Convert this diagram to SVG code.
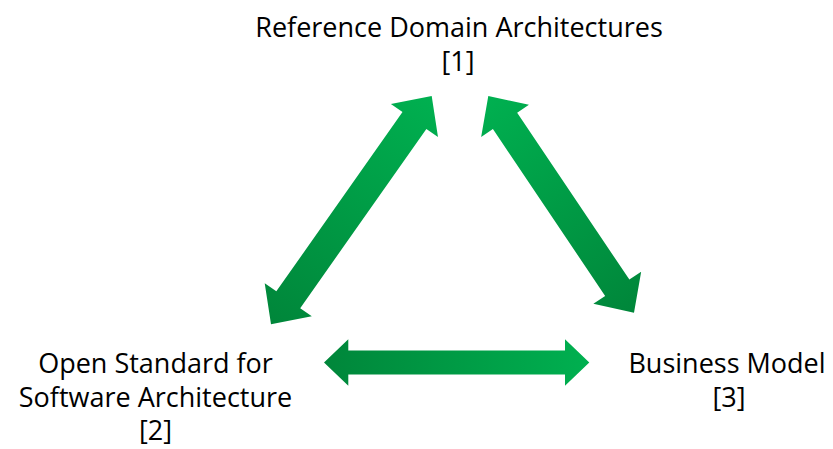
<svg xmlns="http://www.w3.org/2000/svg" width="833" height="449" viewBox="0 0 833 449">
  <style>
    .lbl { font-family: "Open Sans", "Liberation Sans", sans-serif; font-size: 27px; fill: #000; text-anchor: middle; }
  </style>
  <defs>
    <linearGradient id="gUp" x1="0" y1="0" x2="1" y2="0">
      <stop offset="0" stop-color="#00863a"/>
      <stop offset="1" stop-color="#00b050"/>
    </linearGradient>
    <linearGradient id="gDown" x1="0" y1="0" x2="1" y2="0">
      <stop offset="0" stop-color="#00b050"/>
      <stop offset="1" stop-color="#00863a"/>
    </linearGradient>
  </defs>
  <rect width="833" height="449" fill="#fff"/>

  <g id="connectors">
    <path id="arrow-1-2" fill="url(#gUp)" transform="translate(271,324.3) rotate(-54.86)"
      d="M0,0 L30,-28.8 L30,-14.6 L249.2,-14.6 L249.2,-28.8 L279.2,0 L249.2,28.8 L249.2,14.6 L30,14.6 L30,28.8 Z"/>
    <path id="arrow-1-3" fill="url(#gDown)" transform="translate(488.3,96) rotate(56.08)"
      d="M0,0 L30,-28.8 L30,-14.6 L231.1,-14.6 L231.1,-28.8 L261.1,0 L231.1,28.8 L231.1,14.6 L30,14.6 L30,28.8 Z"/>
    <path id="arrow-2-3" fill="url(#gUp)" transform="translate(324,362.5)"
      d="M0,0 L24.3,-23.3 L24.3,-12 L241,-12 L241,-23.3 L265.3,0 L241,23.3 L241,12 L24.3,12 L24.3,23.3 Z"/>
  </g>

  <g id="node-1">
    <text class="lbl" x="459" y="37">Reference Domain Architectures</text>
    <text class="lbl" x="458" y="71">[1]</text>
  </g>
  <g id="node-2">
    <text class="lbl" x="155.5" y="373">Open Standard for</text>
    <text class="lbl" x="155.5" y="406.5">Software Architecture</text>
    <text class="lbl" x="155.5" y="440">[2]</text>
  </g>
  <g id="node-3">
    <text class="lbl" x="727" y="373">Business Model</text>
    <text class="lbl" x="729" y="406.5">[3]</text>
  </g>
</svg>
